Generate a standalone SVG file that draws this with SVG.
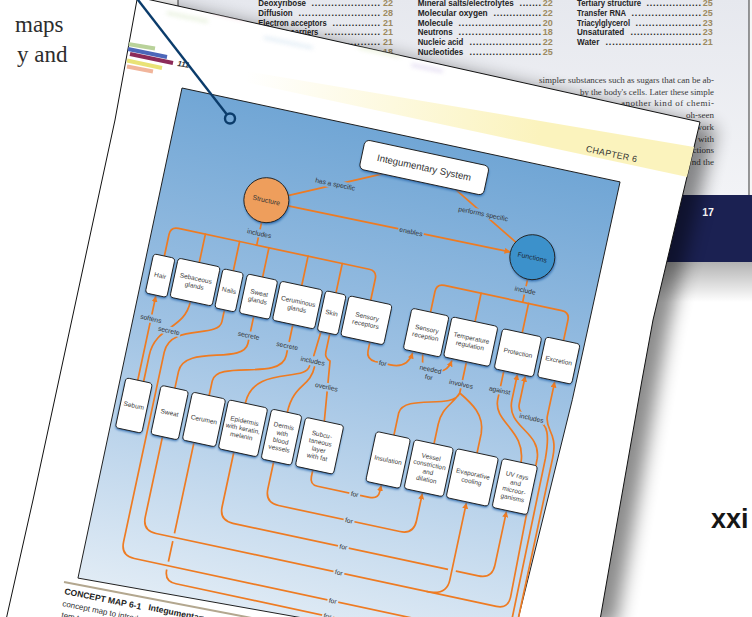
<svg xmlns="http://www.w3.org/2000/svg" width="752" height="617" viewBox="0 0 752 617">
<defs>
<linearGradient id="pg" gradientUnits="userSpaceOnUse" x1="0" y1="0" x2="0" y2="501">
<stop offset="0" stop-color="#71a6d5"/><stop offset="0.45" stop-color="#9dc1e3"/><stop offset="1" stop-color="#e0ebf5"/>
</linearGradient>
<linearGradient id="bp" x1="0" y1="0" x2="0" y2="1">
<stop offset="0" stop-color="#e6e8ee"/><stop offset="1" stop-color="#f2f3f6"/>
</linearGradient>
<linearGradient id="yb" gradientUnits="userSpaceOnUse" x1="60" y1="0" x2="360" y2="0">
<stop offset="0" stop-color="#fbf3bd" stop-opacity="0"/><stop offset="1" stop-color="#fbf3bd" stop-opacity="1"/>
</linearGradient>
<linearGradient id="ns" x1="0" y1="0" x2="0" y2="1">
<stop offset="0" stop-color="#000" stop-opacity="0.3"/><stop offset="1" stop-color="#000" stop-opacity="0"/>
</linearGradient>
<filter id="bl1" x="-20%" y="-20%" width="140%" height="140%"><feGaussianBlur stdDeviation="1"/></filter>
<filter id="bl3" x="-20%" y="-50%" width="140%" height="200%"><feGaussianBlur stdDeviation="2"/></filter>
<filter id="bl9" x="-20%" y="-20%" width="140%" height="140%"><feGaussianBlur stdDeviation="9"/></filter>
<clipPath id="pc"><polygon points="137.5,-3 700,122 653,320 642,380 600,620 6,620 33,500 115,120"/></clipPath>
<marker id="ah" viewBox="0 0 10 10" refX="9" refY="5" markerWidth="6" markerHeight="6" markerUnits="userSpaceOnUse" orient="auto"><path d="M0,0 L10,5 L0,10 z" fill="#ee7b22"/></marker>
<style>
.c{fill:none;stroke:#ee7b22;stroke-width:1.7;stroke-linecap:round;stroke-linejoin:round}
.ar{marker-end:url(#ah)}
.bx{fill:#fff;stroke:#1e1e1e;stroke-width:0.9}
.sd{fill:#2a69ad;filter:url(#bl1)}
.nt{font-family:"Liberation Sans",Arial,sans-serif;font-size:6.5px;fill:#404040;text-anchor:middle}
.lt{font-family:"Liberation Sans",Arial,sans-serif;font-size:6.7px;fill:#333;text-anchor:middle}
.lb{fill:url(#pg)}
.toc{font-family:"Liberation Sans",Arial,sans-serif;font-size:9px;font-weight:bold;fill:#232323}
.num{font-family:"Liberation Sans",Arial,sans-serif;font-size:9px;font-weight:bold;fill:#9d8a5f;text-anchor:end}
.ser{font-family:"Liberation Serif","Times New Roman",serif;font-size:9px;fill:#3a3a3a}
</style>
</defs>

<rect width="752" height="617" fill="#fff"/>

<!-- left book text -->
<g font-family="Liberation Serif, Times New Roman, serif" font-size="23" fill="#2d2d2d">
<text x="15" y="32">maps</text>
<text x="17" y="62">y and</text>
</g>

<!-- back page -->
<g id="backpage">
<rect x="178" y="-2" width="571" height="197" fill="url(#bp)"/>
<rect x="749.5" y="0" width="3" height="195" fill="#f6f6f6"/>
<line x1="178" y1="0" x2="178" y2="12" stroke="#333" stroke-width="1"/>
<line x1="749" y1="0" x2="749" y2="195" stroke="#555" stroke-width="1.2"/>
<rect x="600" y="195" width="152" height="67" fill="#1b2152"/>
<rect x="600" y="262" width="152" height="40" fill="url(#ns)"/>
<text x="708" y="216" font-family="Liberation Sans, Arial, sans-serif" font-size="10.5" font-weight="bold" fill="#fff" text-anchor="middle">17</text>

<text class="toc" x="258.3" y="6" textLength="47.7" lengthAdjust="spacingAndGlyphs">Deoxyribose</text>
<text class="toc" x="311.5" y="6" textLength="68.5" lengthAdjust="spacing">.....................</text>
<text class="num" x="393" y="6">22</text>
<text class="toc" x="258.3" y="15.8" textLength="34.4" lengthAdjust="spacingAndGlyphs">Diffusion</text>
<text class="toc" x="298.5" y="15.8" textLength="81.5" lengthAdjust="spacing">.........................</text>
<text class="num" x="393" y="15.8">28</text>
<text class="toc" x="258.3" y="25.6" textLength="68.4" lengthAdjust="spacingAndGlyphs">Electron acceptors</text>
<text class="toc" x="332.5" y="25.6" textLength="47.5" lengthAdjust="spacing">...............</text>
<text class="num" x="393" y="25.6">21</text>
<text class="toc" x="258.3" y="35.4" textLength="60" lengthAdjust="spacingAndGlyphs">Electron carriers</text>
<text class="toc" x="324.5" y="35.4" textLength="55.5" lengthAdjust="spacing">.................</text>
<text class="num" x="393" y="35.4">21</text>
<text class="toc" x="300" y="45.2" textLength="80" lengthAdjust="spacing">........................</text>
<text class="num" x="393" y="45.2">21</text>
<text class="toc" x="320" y="55" textLength="60" lengthAdjust="spacing">..................</text>
<text class="num" x="393" y="55">18</text>

<text class="toc" x="417.7" y="6" textLength="96" lengthAdjust="spacingAndGlyphs">Mineral salts/electrolytes</text>
<text class="toc" x="519.5" y="6" textLength="21.5" lengthAdjust="spacing">.......</text>
<text class="num" x="552.7" y="6">22</text>
<text class="toc" x="417.7" y="15.8" textLength="70" lengthAdjust="spacingAndGlyphs">Molecular oxygen</text>
<text class="toc" x="493.5" y="15.8" textLength="47.5" lengthAdjust="spacing">...............</text>
<text class="num" x="552.7" y="15.8">22</text>
<text class="toc" x="417.7" y="25.6" textLength="35" lengthAdjust="spacingAndGlyphs">Molecule</text>
<text class="toc" x="458.5" y="25.6" textLength="82.5" lengthAdjust="spacing">.........................</text>
<text class="num" x="552.7" y="25.6">20</text>
<text class="toc" x="417.7" y="35.4" textLength="35" lengthAdjust="spacingAndGlyphs">Neutrons</text>
<text class="toc" x="458.5" y="35.4" textLength="82.5" lengthAdjust="spacing">.........................</text>
<text class="num" x="552.7" y="35.4">18</text>
<text class="toc" x="417.7" y="45.2" textLength="45.6" lengthAdjust="spacingAndGlyphs">Nucleic acid</text>
<text class="toc" x="469.5" y="45.2" textLength="71.5" lengthAdjust="spacing">......................</text>
<text class="num" x="552.7" y="45.2">22</text>
<text class="toc" x="417.7" y="55" textLength="45.6" lengthAdjust="spacingAndGlyphs">Nucleotides</text>
<text class="toc" x="469.5" y="55" textLength="71.5" lengthAdjust="spacing">......................</text>
<text class="num" x="552.7" y="55">25</text>

<text class="toc" x="577" y="6" textLength="64" lengthAdjust="spacingAndGlyphs">Tertiary structure</text>
<text class="toc" x="646.5" y="6" textLength="54.5" lengthAdjust="spacing">.................</text>
<text class="num" x="712.7" y="6">25</text>
<text class="toc" x="577" y="15.8" textLength="49" lengthAdjust="spacingAndGlyphs">Transfer RNA</text>
<text class="toc" x="631.5" y="15.8" textLength="69.5" lengthAdjust="spacing">.....................</text>
<text class="num" x="712.7" y="15.8">25</text>
<text class="toc" x="577" y="25.6" textLength="53" lengthAdjust="spacingAndGlyphs">Triacylglycerol</text>
<text class="toc" x="635.5" y="25.6" textLength="65.5" lengthAdjust="spacing">....................</text>
<text class="num" x="712.7" y="25.6">23</text>
<text class="toc" x="577" y="35.4" textLength="47.3" lengthAdjust="spacingAndGlyphs">Unsaturated</text>
<text class="toc" x="630.5" y="35.4" textLength="70.5" lengthAdjust="spacing">......................</text>
<text class="num" x="712.7" y="35.4">23</text>
<text class="toc" x="577" y="45.2" textLength="22.3" lengthAdjust="spacingAndGlyphs">Water</text>
<text class="toc" x="605.5" y="45.2" textLength="95.5" lengthAdjust="spacing">.............................</text>
<text class="num" x="712.7" y="45.2">21</text>

<text class="ser" x="539" y="83" textLength="175" lengthAdjust="spacing">simpler substances such as sugars that can be ab-</text>
<text class="ser" x="580" y="94.7" textLength="134" lengthAdjust="spacingAndGlyphs">by the body's cells. Later these simple</text>
<text class="ser" x="621" y="106.4" textLength="93" lengthAdjust="spacing">another kind of chemi-</text>
<text class="ser" x="714" y="118.1" text-anchor="end">oh-seen</text>
<text class="ser" x="714" y="129.8" text-anchor="end">work</text>
<text class="ser" x="714" y="141.5" text-anchor="end">with</text>
<text class="ser" x="714" y="153.2" text-anchor="end">ctions</text>
<text class="ser" x="714" y="164.9" text-anchor="end">nd the</text>
</g>

<!-- front page shadow and page -->
<polygon points="153.5,3 716,128 669,326 658,386 616,626 22,626 49,506 131,126" fill="#000" opacity="0.45" filter="url(#bl9)"/>
<polygon id="frontpage" points="137.5,-3 700,122 653,320 642,380 600,620 6,620 33,500 115,120" fill="#fff" stroke="#111" stroke-width="1"/>

<g clip-path="url(#pc)">
<g filter="url(#bl3)" opacity="0.8" transform="rotate(12 300 60)">
<rect x="190" y="14" width="55" height="4" fill="#cfe6c8"/>
<rect x="255" y="22" width="38" height="3" fill="#e7d2ea"/>
<rect x="300" y="26" width="48" height="4" fill="#d6e6f4"/>
<rect x="205" y="30" width="32" height="3" fill="#f1d5df"/>
<rect x="355" y="34" width="42" height="3" fill="#e4ecd0"/>
<rect x="410" y="40" width="32" height="3" fill="#dcd3ee"/>
<rect x="160" y="40" width="42" height="3" fill="#e0ecd2"/>
<rect x="260" y="44" width="50" height="3" fill="#d9e7f2"/>
</g>
<g stroke-width="4">
<line x1="128" y1="44" x2="155" y2="48.5" stroke="#b9d29a"/>
<line x1="128" y1="49" x2="167" y2="57" stroke="#4c66b9"/>
<line x1="130" y1="54" x2="173" y2="63" stroke="#8c2b59"/>
<line x1="127" y1="60.5" x2="162" y2="68" stroke="#e9e276"/>
<line x1="127" y1="66.5" x2="153" y2="71.5" stroke="#f1b59b"/>
</g>
<text transform="translate(177,66) rotate(9)" font-family="Liberation Sans, Arial, sans-serif" font-size="8" font-weight="bold" font-style="italic" fill="#333">111</text>
<g transform="translate(182,88) rotate(12.1)">
<polygon points="60,-19 520,-19 520,-50 60,-30" fill="url(#yb)"/>
<text x="434" y="-22.5" font-family="Liberation Sans, Arial, sans-serif" font-size="8.8" fill="#333" text-anchor="middle" letter-spacing="0.3">CHAPTER 6</text>
</g>
</g>

<!-- concept map -->
<g id="map" transform="translate(182,88) rotate(12.1)">
<polygon id="panel" points="0,0 448,0 447,223 440,447 439,486 226,493 1,501" fill="url(#pg)" stroke="#1a1a1a" stroke-width="0.9"/>

<g id="connectors">
<path class="c" d="M214,42 L126,83"/>
<path class="c" d="M289,42 L359,81"/>
<path class="c ar" d="M128.5,93 L355,91.5"/>
<path class="c" d="M106,114.5 V138"/>
<path class="c" d="M18,168 V146 Q18,138 26,138 H221 Q229,138 229,146 V168"/>
<path class="c" d="M53.5,138 V167 M88.5,138 V168 M118.5,138 V168 M158.5,138 V168 M193.5,138 V168"/>
<path class="c" d="M378,114.5 V138"/>
<path class="c" d="M290,167 V146 Q290,138 298,138 H418 Q426,138 426,146 V167"/>
<path class="c" d="M335.5,138 V167 M384,138 V168"/>
<path class="c ar" d="M18,295 V209.5"/>
<path class="c" d="M53,207 C53,236 24,238 24,268 V295"/>
<path class="c" d="M118,208 V236 C118,258 56,250 56,278 V295"/>
<path class="c" d="M158,208 V240 C158,266 91,258 91,280 V295"/>
<path class="c" d="M187,209 L185,234 M183,245 C183,262 128,256 128,295 M188,245 C188,266 171,266 171,295"/>
<path class="c" d="M196,209 V228 Q196,234 202,236 L209,296"/>
<path class="c ar" d="M237,209 V218 Q237,226 246,227 H262 Q279,227 281,211"/>
<path class="c" d="M291,209 L293,219"/>
<path class="c ar" d="M311,223 Q319,221 321,210.5"/>
<path class="c" d="M335.5,208 V240 C333,258 282,252 280,272 V295 M335.5,240 C330,254 321,258 321,275 V295 M335.5,240 C350,248 364,256 365,275 V295"/>
<path class="c" d="M374,209 V238 C374,262 408,262 410,295"/>
<path class="c ar" d="M208,346 V353 Q208,361 216,361 H269 Q278,361 278,353 V347"/>
<path class="c ar" d="M168,346 V374 Q168,388 182,388 H306 Q320,388 320,374 V346.5"/>
<path class="c ar" d="M127,345 V401 Q127,415 141,415 H392 Q406,415 406,401 V346.5"/>
<rect class="lb" x="361" y="411.5" width="8" height="7"/>
<path class="c ar" d="M86,345 V474 Q86,486 98,486 H427 Q440,486 440,473 L440,284 C440,258 426,258 426,244 V209.5"/>
<rect class="lb" x="82" y="437" width="8" height="8"/>
<rect class="lb" x="82" y="466" width="8" height="8"/>
<path class="c ar" d="M54,345 V427 Q54,441 68,441 H416 Q428,441 428,429 L425,288 C423,260 388,264 388,236 V210"/>
<path class="c ar" d="M345,441 Q365,441 365,425 V346.5"/>
<path class="c ar" d="M88,208 V220 C88,238 38,232 38,262 V456 Q38,470 52,470 H421 Q434,470 434,457 L433,286 C432,262 428,252 418,251 L404,248 Q396,246 396,238 V210"/>

<g id="labels">
<rect class="lb" x="149" y="57.8" width="42" height="8.4"/><text class="lt" x="170" y="64.3">has a specific</text>
<rect class="lb" x="295" y="55.8" width="52" height="8.4"/><text class="lt" x="321" y="62.3">performs specific</text>
<rect class="lb" x="241" y="88.3" width="26" height="8.4"/><text class="lt" x="254" y="94.8">enables</text>
<rect class="lb" x="92.5" y="121.8" width="27" height="8.4"/><text class="lt" x="106" y="128.3">includes</text>
<rect class="lb" x="366" y="121.8" width="24" height="8.4"/><text class="lt" x="378" y="128.3">include</text>
<rect class="lb" x="6" y="227.8" width="24" height="8.4"/><text class="lt" x="18" y="234.3">softens</text>
<rect class="lb" x="26" y="235.8" width="24" height="8.4"/><text class="lt" x="38" y="242.3">secrete</text>
<rect class="lb" x="105" y="223.8" width="24" height="8.4"/><text class="lt" x="117" y="230.3">secrete</text>
<rect class="lb" x="145" y="225.8" width="24" height="8.4"/><text class="lt" x="157" y="232.3">secrete</text>
<rect class="lb" x="171.5" y="235.3" width="27" height="8.4"/><text class="lt" x="185" y="241.8">includes</text>
<rect class="lb" x="191.5" y="257.8" width="25" height="8.4"/><text class="lt" x="204" y="264.3">overlies</text>
<rect class="lb" x="249" y="222.8" width="10" height="8.4"/><text class="lt" x="254" y="229.3">for</text>
<rect class="lb" x="290" y="218" width="24" height="17"/><text class="lt" x="302" y="225.3">needed</text><text class="lt" x="302" y="233.3">for</text>
<rect class="lb" x="322" y="226.8" width="26" height="8.4"/><text class="lt" x="335" y="233.3">involves</text>
<rect class="lb" x="362" y="224.8" width="24" height="8.4"/><text class="lt" x="374" y="231.3">against</text>
<rect class="lb" x="397.5" y="245.3" width="27" height="8.4"/><text class="lt" x="411" y="251.8">includes</text>
<rect class="lb" x="248.5" y="356.8" width="11" height="8.4"/><text class="lt" x="254" y="363.3">for</text>
<rect class="lb" x="248.5" y="383.8" width="11" height="8.4"/><text class="lt" x="254" y="390.3">for</text>
<rect class="lb" x="248.5" y="410.8" width="11" height="8.4"/><text class="lt" x="254" y="417.3">for</text>
<rect class="lb" x="249.5" y="436.8" width="11" height="8.4"/><text class="lt" x="255" y="443.3">for</text>
<rect class="lb" x="249.5" y="465.8" width="11" height="8.4"/><text class="lt" x="255" y="472.3">for</text>
<rect class="lb" x="247.5" y="481.8" width="11" height="8.4"/><text class="lt" x="253" y="488.3">for</text>
</g>
</g>

<g id="n-integumentary"><rect class="sd" x="190.5" y="13.5" width="127" height="30" rx="5"/><rect class="bx" x="190" y="12" width="127" height="30" rx="5"/><text class="nt" x="253.5" y="30.3" style="font-size:9.6px;fill:#333">Integumentary System</text></g>
<g id="n-structure"><circle class="sd" cx="107" cy="93.5" r="22.5"/><circle cx="106" cy="92" r="22.5" fill="#ee9e5c" stroke="#222" stroke-width="0.9"/><text class="nt" x="106" y="94.4" style="font-size:6.9px;fill:#333">Structure</text></g>
<g id="n-functions"><circle class="sd" cx="379" cy="93.5" r="22.5"/><circle cx="378" cy="92" r="22.5" fill="#3c91cb" stroke="#222" stroke-width="0.9"/><text class="nt" x="378" y="94.4" style="font-size:6.9px;fill:#1d2d3d">Functions</text></g>

<g id="n-hair"><rect class="sd" x="7" y="169.5" width="22" height="40" rx="3.5"/><rect class="bx" x="7" y="168" width="22" height="40" rx="3.5"/><text class="nt" x="18" y="190.3">Hair</text></g>
<g id="n-sebaceous"><rect class="sd" x="32" y="168.5" width="43" height="40" rx="3.5"/><rect class="bx" x="32" y="167" width="43" height="40" rx="3.5"/><text class="nt" x="53.5" y="185.5">Sebaceous</text><text class="nt" x="53.5" y="193.1">glands</text></g>
<g id="n-nails"><rect class="sd" x="78" y="169.5" width="21" height="40" rx="3.5"/><rect class="bx" x="78" y="168" width="21" height="40" rx="3.5"/><text class="nt" x="88.5" y="190.3">Nails</text></g>
<g id="n-sweatglands"><rect class="sd" x="103" y="169.5" width="31" height="40" rx="3.5"/><rect class="bx" x="103" y="168" width="31" height="40" rx="3.5"/><text class="nt" x="118.5" y="186.5">Sweat</text><text class="nt" x="118.5" y="194.1">glands</text></g>
<g id="n-ceruminous"><rect class="sd" x="137" y="169.5" width="43" height="40" rx="3.5"/><rect class="bx" x="137" y="168" width="43" height="40" rx="3.5"/><text class="nt" x="158.5" y="186.5">Ceruminous</text><text class="nt" x="158.5" y="194.1">glands</text></g>
<g id="n-skin"><rect class="sd" x="183" y="169.5" width="21" height="41" rx="3.5"/><rect class="bx" x="183" y="168" width="21" height="41" rx="3.5"/><text class="nt" x="193.5" y="190.8">Skin</text></g>
<g id="n-sensoryreceptors"><rect class="sd" x="207" y="169.5" width="44" height="41" rx="3.5"/><rect class="bx" x="207" y="168" width="44" height="41" rx="3.5"/><text class="nt" x="229" y="187">Sensory</text><text class="nt" x="229" y="194.6">receptors</text></g>
<g id="n-sensoryreception"><rect class="sd" x="271" y="168.5" width="38" height="42" rx="3.5"/><rect class="bx" x="271" y="167" width="38" height="42" rx="3.5"/><text class="nt" x="290" y="186.5">Sensory</text><text class="nt" x="290" y="194.1">reception</text></g>
<g id="n-tempreg"><rect class="sd" x="312" y="168.5" width="47" height="41" rx="3.5"/><rect class="bx" x="312" y="167" width="47" height="41" rx="3.5"/><text class="nt" x="335.5" y="186">Temperature</text><text class="nt" x="335.5" y="193.6">regulation</text></g>
<g id="n-protection"><rect class="sd" x="364" y="169.5" width="40" height="41" rx="3.5"/><rect class="bx" x="364" y="168" width="40" height="41" rx="3.5"/><text class="nt" x="384" y="190.8">Protection</text></g>
<g id="n-excretion"><rect class="sd" x="408" y="168.5" width="35" height="41" rx="3.5"/><rect class="bx" x="408" y="167" width="35" height="41" rx="3.5"/><text class="nt" x="425.5" y="189.8">Excretion</text></g>

<g id="n-sebum"><rect class="sd" x="6" y="296.5" width="27" height="51" rx="3.5"/><rect class="bx" x="6" y="295" width="27" height="51" rx="3.5"/><text class="nt" x="19.5" y="322.8">Sebum</text></g>
<g id="n-sweat"><rect class="sd" x="42" y="296.5" width="28" height="50" rx="3.5"/><rect class="bx" x="42" y="295" width="28" height="50" rx="3.5"/><text class="nt" x="56" y="322.3">Sweat</text></g>
<g id="n-cerumen"><rect class="sd" x="74" y="296.5" width="34" height="49" rx="3.5"/><rect class="bx" x="74" y="295" width="34" height="49" rx="3.5"/><text class="nt" x="91" y="321.8">Cerumen</text></g>
<g id="n-epidermis"><rect class="sd" x="111" y="296.5" width="40" height="50" rx="3.5"/><rect class="bx" x="111" y="295" width="40" height="50" rx="3.5"/><text class="nt" x="131" y="314.7">Epidermis</text><text class="nt" x="131" y="322.3">with keratin,</text><text class="nt" x="131" y="329.9">melanin</text></g>
<g id="n-dermis"><rect class="sd" x="155" y="296.5" width="31" height="51" rx="3.5"/><rect class="bx" x="155" y="295" width="31" height="51" rx="3.5"/><text class="nt" x="170.5" y="311.4">Dermis</text><text class="nt" x="170.5" y="319">with</text><text class="nt" x="170.5" y="326.6">blood</text><text class="nt" x="170.5" y="334.2">vessels</text></g>
<g id="n-subcutaneous"><rect class="sd" x="190" y="297.5" width="39" height="50" rx="3.5"/><rect class="bx" x="190" y="296" width="39" height="50" rx="3.5"/><text class="nt" x="209.5" y="311.9">Subcu-</text><text class="nt" x="209.5" y="319.5">taneous</text><text class="nt" x="209.5" y="327.1">layer</text><text class="nt" x="209.5" y="334.7">with fat</text></g>
<g id="n-insulation"><rect class="sd" x="262" y="296.5" width="35" height="51" rx="3.5"/><rect class="bx" x="262" y="295" width="35" height="51" rx="3.5"/><text class="nt" x="279.5" y="322.8">Insulation</text></g>
<g id="n-vessel"><rect class="sd" x="301" y="296.5" width="40" height="50" rx="3.5"/><rect class="bx" x="301" y="295" width="40" height="50" rx="3.5"/><text class="nt" x="321" y="310.9">Vessel</text><text class="nt" x="321" y="318.5">constriction</text><text class="nt" x="321" y="326.1">and</text><text class="nt" x="321" y="333.7">dilation</text></g>
<g id="n-evaporative"><rect class="sd" x="344" y="296.5" width="43" height="50" rx="3.5"/><rect class="bx" x="344" y="295" width="43" height="50" rx="3.5"/><text class="nt" x="365.5" y="318.5">Evaporative</text><text class="nt" x="365.5" y="326.1">cooling</text></g>
<g id="n-uv"><rect class="sd" x="391" y="296.5" width="36" height="50" rx="3.5"/><rect class="bx" x="391" y="295" width="36" height="50" rx="3.5"/><text class="nt" x="409" y="310.9">UV rays</text><text class="nt" x="409" y="318.5">and</text><text class="nt" x="409" y="326.1">microor-</text><text class="nt" x="409" y="333.7">ganisms</text></g>
</g>

<!-- caption -->
<line x1="64" y1="582" x2="330" y2="633" stroke="#b3a78f" stroke-width="2"/>
<g font-family="Liberation Sans, Arial, sans-serif" fill="#222">
<text transform="translate(64,594) rotate(11.5)" font-size="8.6" font-weight="bold">CONCEPT MAP 6-1</text>
<text transform="translate(148,610) rotate(11.5)" font-size="8.6" font-weight="bold">Integumentary</text>
<text transform="translate(62,606) rotate(11.5)" font-size="8" fill="#333">concept map to introdu</text>
<text transform="translate(61,617.5) rotate(11.5)" font-size="8" fill="#333">tem to p</text>
</g>

<!-- callout -->
<g id="callout" fill="none" stroke="#0b3c6b" stroke-width="2.4">
<line x1="136.5" y1="-2" x2="226.5" y2="114"/>
<circle cx="230" cy="118.5" r="5"/>
</g>

<text x="711" y="528" font-family="Liberation Sans, Arial, sans-serif" font-size="27" font-weight="bold" fill="#161616">xxi</text>
</svg>
